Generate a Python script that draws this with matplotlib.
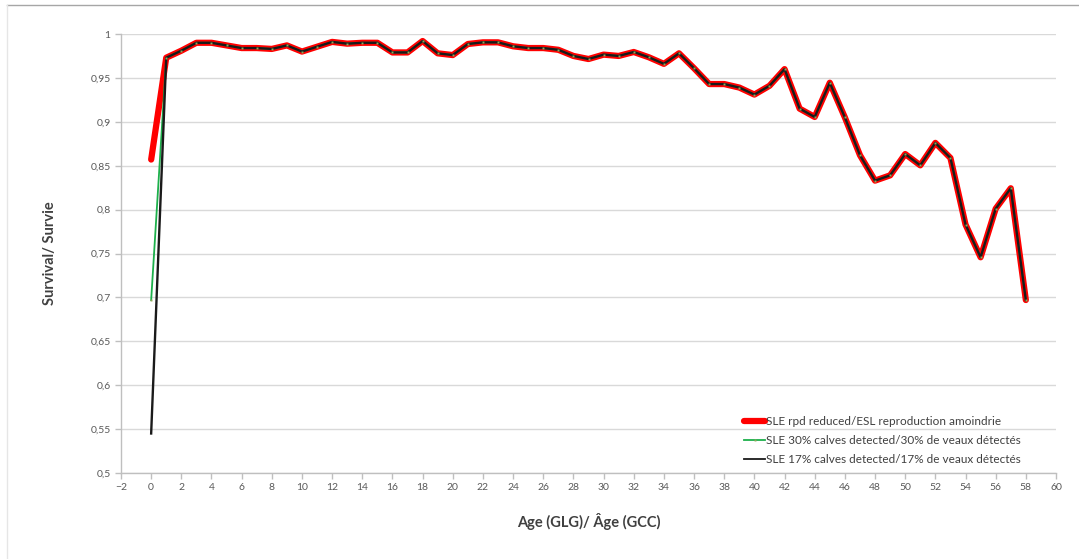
import matplotlib
matplotlib.use("Agg")
import matplotlib.pyplot as plt
from matplotlib.lines import Line2D

plt.rcParams['font.family'] = ['Lato', 'DejaVu Sans']

ages = list(range(0, 59))
# survival for ages 1..58 (shared by the three series)
common = [0.973, 0.981, 0.990, 0.990, 0.987, 0.984, 0.984, 0.983, 0.987, 0.980,
          0.9855, 0.991, 0.989, 0.990, 0.990, 0.979, 0.979, 0.992, 0.978, 0.976,
          0.9886, 0.9905, 0.9905, 0.986, 0.984, 0.984, 0.982, 0.975, 0.9715, 0.9765,
          0.975, 0.9795, 0.9735, 0.966, 0.978, 0.961, 0.943, 0.943, 0.939, 0.931,
          0.941, 0.960, 0.915, 0.9055, 0.9445, 0.905, 0.862, 0.833, 0.839, 0.8633,
          0.8504, 0.876, 0.8588, 0.783, 0.7457, 0.801, 0.8243, 0.697]
rpd_reduced = [0.857] + common
calves30 = [0.697] + common
calves17 = [0.545] + common

labels = ["SLE rpd reduced/ESL reproduction amoindrie",
          "SLE 30% calves detected/30% de veaux détectés",
          "SLE 17% calves detected/17% de veaux détectés"]

fig = plt.figure(figsize=(10.79, 5.59), dpi=100)
ax = fig.add_axes([121/1079, 1 - 473/559, (1056-121)/1079, (473-34)/559])

ax.plot(ages, rpd_reduced, color='#ff0000', lw=4.5, solid_capstyle='round',
        solid_joinstyle='round', zorder=3)
ax.plot(ages, calves30, color='#1db04b', lw=1.3, zorder=4)
ax.plot(ages, calves17, color='#1a1a1a', lw=1.7, zorder=5)
ax.plot(ages, calves30, ls='none', marker='s', ms=1.4, mfc='#8fa85a',
        mec='none', zorder=6)

ax.set_xlim(-2, 60)
ax.set_ylim(0.5, 1.0)
ax.set_xticks(range(-2, 61, 2))
yt = [0.5 + 0.05 * i for i in range(11)]
ax.set_yticks(yt)
ax.set_yticklabels([("%g" % round(v, 2)).replace('.', ',') for v in yt])
ax.grid(axis='y', color='#d9d9d9', lw=1)
ax.set_axisbelow(True)
for s in ['top', 'right']:
    ax.spines[s].set_visible(False)
for s in ['left', 'bottom']:
    ax.spines[s].set_color('#bfbfbf')
    ax.spines[s].set_linewidth(1)
ax.tick_params(axis='both', colors='#bfbfbf', labelcolor='#595959',
               labelsize=7.5, length=4, width=1, direction='out')
ax.tick_params(axis='x', pad=3)

ax.set_xlabel("Age (GLG)/ Âge (GCC)", fontsize=10.5, fontweight='bold',
              color='#404040', labelpad=15)
ax.set_ylabel("Survival/ Survie", fontsize=10.5, fontweight='bold',
              color='#404040', labelpad=24)

handles = [Line2D([], [], color='#ff0000', lw=4.5, solid_capstyle='round'),
           Line2D([], [], color='#1db04b', lw=1.3, marker='s', ms=1.4,
                  mfc='#8fa85a', mec='none'),
           Line2D([], [], color='#1a1a1a', lw=1.3)]
leg = ax.legend(handles, labels, loc='lower left', bbox_to_anchor=(0.655, -0.007),
                frameon=False, fontsize=8.5, handlelength=1.8, handletextpad=0.1,
                labelspacing=0.7, labelcolor='#404040')

# chart-area border
fig.add_artist(Line2D([7/1079, 1], [1 - 5/559, 1 - 5/559], color='#a6a6a6', lw=1,
                      transform=fig.transFigure))
fig.add_artist(Line2D([7/1079, 7/1079], [0, 1 - 5/559], color='#e6e6e6', lw=1,
                      transform=fig.transFigure))

fig.savefig("out.png", dpi=100, facecolor='white')
